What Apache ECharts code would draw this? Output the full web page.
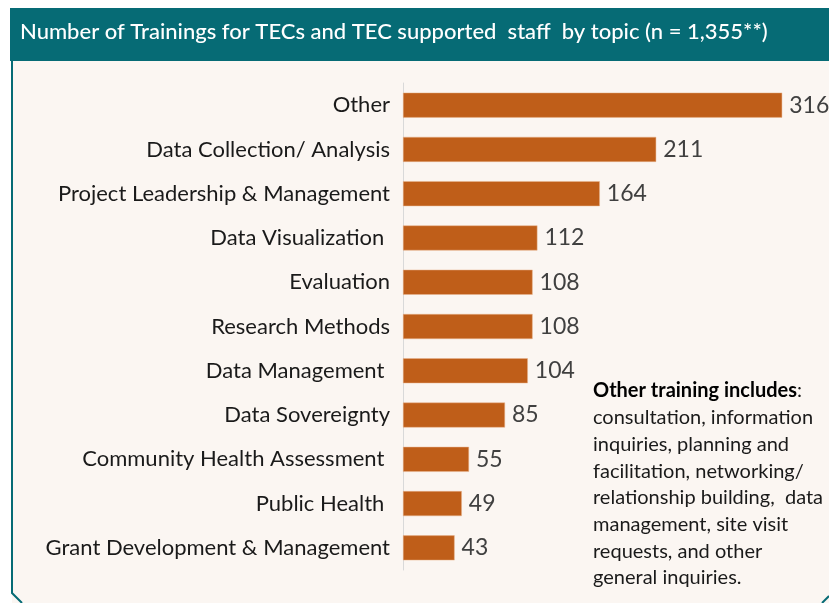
<!DOCTYPE html>
<html>
<head>
<meta charset="utf-8">
<script src="https://cdn.jsdelivr.net/npm/echarts@6/dist/echarts.min.js"></script>
<style>
  html, body { margin: 0; padding: 0; background: #ffffff; }
  #chart { width: 829px; height: 603px; }
</style>
</head>
<body>
<div id="chart"></div>
<script>
// topics, top to bottom as shown
var topics = ['Other', 'Data Collection/ Analysis', 'Project Leadership & Management', 'Data Visualization ',
  'Evaluation', 'Research Methods', 'Data Management ', 'Data Sovereignty', 'Community Health Assessment ',
  'Public Health ', 'Grant Development & Management'];
var trainings = [316, 211, 164, 112, 108, 108, 104, 85, 55, 49, 43];

var noteLines = ['consultation, information', 'inquiries, planning and', 'facilitation, networking/',
  'relationship building,  data', 'management, site visit', 'requests, and other', 'general inquiries.'];

var teal = '#066b75';
var myChart = echarts.init(document.getElementById('chart'));

var noteText = '{b|Other training includes}{r|:}\n' + noteLines.map(function (l) { return '{r|' + l + '}'; }).join('\n');

var option = {
  backgroundColor: '#ffffff',
  animation: false,
  textStyle: { fontFamily: 'Lato' },
  graphic: [
    // fondo del panel
    { type: 'rect', z: -10, shape: { x: 12, y: 60, width: 817, height: 543 }, style: { fill: '#fbf6f2' } },
    // banda del titulo
    { type: 'rect', z: -9, shape: { x: 10, y: 8, width: 819, height: 53 }, style: { fill: teal } },
    // borde izquierdo con esquina cortada
    { type: 'polyline', z: -8, shape: { points: [[12, 61], [12, 593], [22, 603]] }, style: { stroke: teal, lineWidth: 2, fill: null } },
    { type: 'polyline', z: -8, shape: { points: [[822, 603], [829, 596]] }, style: { stroke: teal, lineWidth: 2, fill: null } },
    {
      type: 'text', left: 20, top: 21,
      style: { text: 'Number of Trainings for TECs and TEC supported  staff  by topic (n = 1,355**)', fill: '#ffffff',
        fontFamily: 'Lato', fontSize: 22, fontWeight: 500 }
    },
    {
      type: 'text', left: 593, top: 381,
      style: {
        text: noteText,
        rich: {
          b: { fontFamily: 'Lato', fontSize: 20, fontWeight: 'bold', fill: '#000000', lineHeight: 26.7 },
          r: { fontFamily: 'Lato', fontSize: 20, fill: '#1a1a1a', lineHeight: 26.7 }
        }
      }
    }
  ],
  grid: { left: 403, top: 83, right: 6, height: 487, containLabel: false },
  xAxis: {
    type: 'value', min: 0, max: 350,
    show: false
  },
  yAxis: {
    type: 'category', inverse: true, data: topics,
    axisLine: { show: true, lineStyle: { color: '#d9d9d9', width: 1 } },
    axisTick: { show: false },
    axisLabel: { color: '#1a1a1a', fontSize: 22, fontFamily: 'Lato', margin: 13 }
  },
  series: [{
    type: 'bar', data: trainings, barWidth: 25,
    itemStyle: { color: '#bf5e19', borderColor: '#e9b48f', borderWidth: 0.5 },
    label: { show: true, position: ['100%', '50%'], offset: [7, 0], align: 'left', verticalAlign: 'middle',
      color: '#404040', fontSize: 23, fontFamily: 'Lato' }
  }]
};
myChart.setOption(option);
</script>
</body>
</html>
